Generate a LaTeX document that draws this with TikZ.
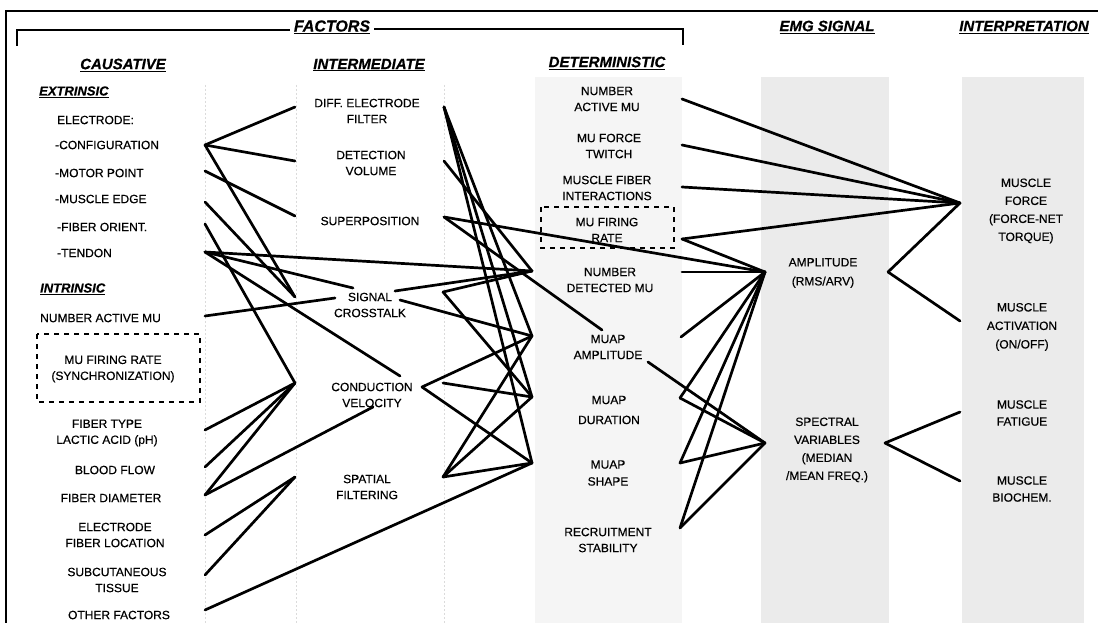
\documentclass[tikz,border=0pt]{standalone}
\usepackage{fontspec}
\setmainfont{Liberation Sans}[FakeBold=0.5]
\begin{document}
\begin{tikzpicture}[x=1pt,y=-1pt,
  lbl/.style={font=\fontsize{12}{16}\selectfont, inner sep=0pt, align=center},
  lbll/.style={font=\fontsize{12}{16}\selectfont, inner sep=0pt, anchor=west},
  hd/.style={font=\fontsize{15}{18}\selectfont\bfseries\itshape, inner sep=0pt},
  subhd/.style={font=\fontsize{13}{16}\selectfont\bfseries\itshape, inner sep=0pt, anchor=west},
  wire/.style={line width=2.7pt, line cap=round},
  dbox/.style={line width=2.6pt, dash pattern=on 5pt off 5pt},
  frameline/.style={line width=2pt},
  bracket/.style={line width=2.2pt},
  guide/.style={black!14, line width=0.6pt, dash pattern=on 2pt off 2pt},
  colshade/.style={fill=black!8, draw=none},
  colshadelight/.style={fill=black!4, draw=none}]
\useasboundingbox (0,0) rectangle (1098,623);

% column shading
\fill[colshadelight] (535,77) rectangle (682,623);
\fill[colshade] (761,77) rectangle (889,623);
\fill[colshade] (962,77) rectangle (1084,623);
\draw[guide] (205,85) -- (205,623);
\draw[guide] (296,85) -- (296,623);
\draw[guide] (444,85) -- (444,623);

% frame
\draw[frameline] (6,623) -- (6,11) -- (1098,11);
\draw[bracket] (17,46) -- (17,30) -- (290,30);
\draw[bracket] (374,29) -- (683,29) -- (683,45);

% headings
\node[hd, font=\fontsize{16}{18}\selectfont\bfseries\itshape] (factors) at (332,27) {\underline{FACTORS}};
\node[hd] (causative) at (123,65) {\underline{CAUSATIVE}};
\node[hd] (intermediate) at (369,65) {\underline{INTERMEDIATE}};
\node[hd] (deterministic) at (607,63) {\underline{DETERMINISTIC}};
\node[hd] (emg) at (827,27) {\underline{EMG SIGNAL}};
\node[hd] (interp) at (1024,27) {\underline{INTERPRETATION}};
\node[subhd] (extrinsic) at (39,92) {\underline{EXTRINSIC}};
\node[subhd] (intrinsic) at (40,289) {\underline{INTRINSIC}};

% causative items
\node[lbll] (electrode) at (57,120) {ELECTRODE:};
\node[lbll] (cfg) at (55,145) {-CONFIGURATION};
\node[lbll] (mot) at (55,173) {-MOTOR POINT};
\node[lbll] (edg) at (55,199) {-MUSCLE EDGE};
\node[lbll] (ori) at (57,227) {-FIBER ORIENT.};
\node[lbll] (ten) at (57,253) {-TENDON};
\node[lbll] (nam) at (40,318) {NUMBER ACTIVE MU};
\node[lbl] (mfrc) at (113,369) {MU FIRING RATE\\(SYNCHRONIZATION)};
\draw[dbox] (37,334) rectangle (200,402);
\node[lbl] (fty) at (107,433) {FIBER TYPE\\LACTIC ACID (pH)};
\node[lbl] (bfl) at (115,470) {BLOOD FLOW};
\node[lbl] (fdi) at (111,498) {FIBER DIAMETER};
\node[lbl] (efl) at (115,535) {ELECTRODE\\FIBER LOCATION};
\node[lbl] (sub) at (117,580) {SUBCUTANEOUS\\TISSUE};
\node[lbl] (oth) at (119,615) {OTHER FACTORS};

% intermediate items
\node[lbl] (dif) at (367,111) {DIFF. ELECTRODE\\FILTER};
\node[lbl] (det) at (371,163) {DETECTION\\VOLUME};
\node[lbl] (sup) at (370,221) {SUPERPOSITION};
\node[lbl] (sig) at (370,305) {SIGNAL\\CROSSTALK};
\node[lbl] (con) at (372,395) {CONDUCTION\\VELOCITY};
\node[lbl] (spa) at (367,487) {SPATIAL\\FILTERING};

% deterministic items
\node[lbl] (nad) at (607,99) {NUMBER\\ACTIVE MU};
\node[lbl] (mft) at (609,146) {MU FORCE\\TWITCH};
\node[lbl] (mfi) at (607,188) {MUSCLE FIBER\\INTERACTIONS};
\node[lbl] (mfr) at (607,230) {MU FIRING\\RATE};
\draw[dbox] (541,207) rectangle (674,248);
\node[lbl] (ndm) at (610,280) {NUMBER\\DETECTED MU};
\node[lbl] (mam) at (608,347) {MUAP\\AMPLITUDE};
\node[lbl, font=\fontsize{12}{20}\selectfont] (mdu) at (609,410) {MUAP\\DURATION};
\node[lbl, font=\fontsize{12}{17}\selectfont] (msh) at (608,473) {MUAP\\SHAPE};
\node[lbl] (rec) at (608,540) {RECRUITMENT\\STABILITY};

% EMG signal
\node[lbl, font=\fontsize{12}{19}\selectfont] (amp) at (823,273) {AMPLITUDE\\(RMS/ARV)};
\node[lbl, font=\fontsize{12}{18}\selectfont] (spe) at (827,450) {SPECTRAL\\VARIABLES\\(MEDIAN\\/MEAN FREQ.)};

% interpretation
\node[lbl, font=\fontsize{12}{18}\selectfont] (force) at (1026,211) {MUSCLE\\FORCE\\(FORCE-NET\\TORQUE)};
\node[lbl, font=\fontsize{12}{18.5}\selectfont] (act) at (1022,327) {MUSCLE\\ACTIVATION\\(ON/OFF)};
\node[lbl, font=\fontsize{12}{17}\selectfont] (fat) at (1022,413) {MUSCLE\\FATIGUE};
\node[lbl, font=\fontsize{12}{17}\selectfont] (bio) at (1022,489) {MUSCLE\\BIOCHEM.};

% ports
\coordinate (cfgR) at (205,145);
\coordinate (motR) at (205,171);
\coordinate (edgR) at (205,202);
\coordinate (oriR) at (205,224);
\coordinate (tenR) at (205,252);
\coordinate (namR) at (205,316);
\coordinate (ftyR) at (205,430);
\coordinate (bflR) at (205,467);
\coordinate (fdiR) at (205,495);
\coordinate (eflR) at (205,535);
\coordinate (subR) at (205,575);
\coordinate (othR) at (205,610);

\coordinate (difL) at (295,107);
\coordinate (detL) at (295,161);
\coordinate (supL) at (295,216);
\coordinate (sigL) at (295,297);
\coordinate (sigL2) at (335,298);
\coordinate (sigTL) at (353,288);
\coordinate (conL) at (295,383);
\coordinate (conTR) at (400,376);
\coordinate (velC) at (373,407);
\coordinate (spaL) at (295,477);

\coordinate (difR) at (444,107);
\coordinate (detR) at (444,161);
\coordinate (supR) at (444,217);
\coordinate (sigR) at (443,292);
\coordinate (sigR1) at (395,291);
\coordinate (sigR2) at (400,300);
\coordinate (conR) at (422,387);
\coordinate (conR2) at (443,383);
\coordinate (spaR) at (443,477);

\coordinate (ndmL) at (532,271);
\coordinate (mamL) at (532,336);
\coordinate (mduL) at (532,397);
\coordinate (mshL) at (532,463);
\coordinate (mamT) at (602,330);

\coordinate (nadR) at (682,99);
\coordinate (mftR) at (682,145);
\coordinate (mfiR) at (682,187);
\coordinate (mfrR) at (682,239);
\coordinate (ndmR) at (682,272);
\coordinate (mamR) at (681,337);
\coordinate (mamR2) at (648,362);
\coordinate (mduR) at (680,398);
\coordinate (mshR) at (680,463);
\coordinate (recR) at (680,528);

\coordinate (ampL) at (765,272);
\coordinate (ampR) at (888,272);
\coordinate (speL) at (765,443);
\coordinate (speR) at (885,443);
\coordinate (forceL) at (960,203);
\coordinate (actL) at (960,321);
\coordinate (fatL) at (960,412);
\coordinate (bioL) at (960,481);

% causative -> intermediate
\draw[wire] (cfgR) -- (difL);
\draw[wire] (cfgR) -- (detL);
\draw[wire] (cfgR) -- (sigL);
\draw[wire] (motR) -- (supL);
\draw[wire] (edgR) -- (sigL);
\draw[wire] (oriR) -- (conL);
\draw[wire] (tenR) -- (ndmL);
\draw[wire] (tenR) -- (sigTL);
\draw[wire] (tenR) -- (conTR);
\draw[wire] (namR) -- (sigL2);
\draw[wire] (ftyR) -- (conL);
\draw[wire] (bflR) -- (conL);
\draw[wire] (fdiR) -- (conL);
\draw[wire] (fdiR) -- (velC);
\draw[wire] (eflR) -- (spaL);
\draw[wire] (subR) -- (spaL);
\draw[wire] (othR) -- (mshL);

% intermediate -> deterministic
\draw[wire] (difR) -- (mamL);
\draw[wire] (difR) -- (mduL);
\draw[wire] (difR) -- (mshL);
\draw[wire] (detR) -- (ndmL);
\draw[wire] (supR) -- (mamT);
\draw[wire] (supR) -- (ampL);
\draw[wire] (sigR1) -- (ndmL);
\draw[wire] (sigR2) -- (mamL);
\draw[wire] (sigR) -- (ndmL);
\draw[wire] (sigR) -- (mduL);
\draw[wire] (conR) -- (mamL);
\draw[wire] (conR) -- (mshL);
\draw[wire] (conR2) -- (mduL);
\draw[wire] (spaR) -- (mamL);
\draw[wire] (spaR) -- (mduL);
\draw[wire] (spaR) -- (mshL);

% deterministic -> EMG / interpretation
\draw[wire] (nadR) -- (forceL);
\draw[wire] (mftR) -- (forceL);
\draw[wire] (mfiR) -- (forceL);
\draw[wire] (mfrR) -- (forceL);
\draw[wire] (mfrR) -- (ampL);
\draw[wire] (ndmR) -- (ampL);
\draw[wire] (mamR) -- (ampL);
\draw[wire] (mduR) -- (ampL);
\draw[wire] (mshR) -- (ampL);
\draw[wire] (recR) -- (ampL);
\draw[wire] (mamR2) -- (speL);
\draw[wire] (mduR) -- (speL);
\draw[wire] (mshR) -- (speL);
\draw[wire] (recR) -- (speL);

% EMG -> interpretation
\draw[wire] (ampR) -- (forceL);
\draw[wire] (ampR) -- (actL);
\draw[wire] (speR) -- (fatL);
\draw[wire] (speR) -- (bioL);
\end{tikzpicture}
\end{document}
